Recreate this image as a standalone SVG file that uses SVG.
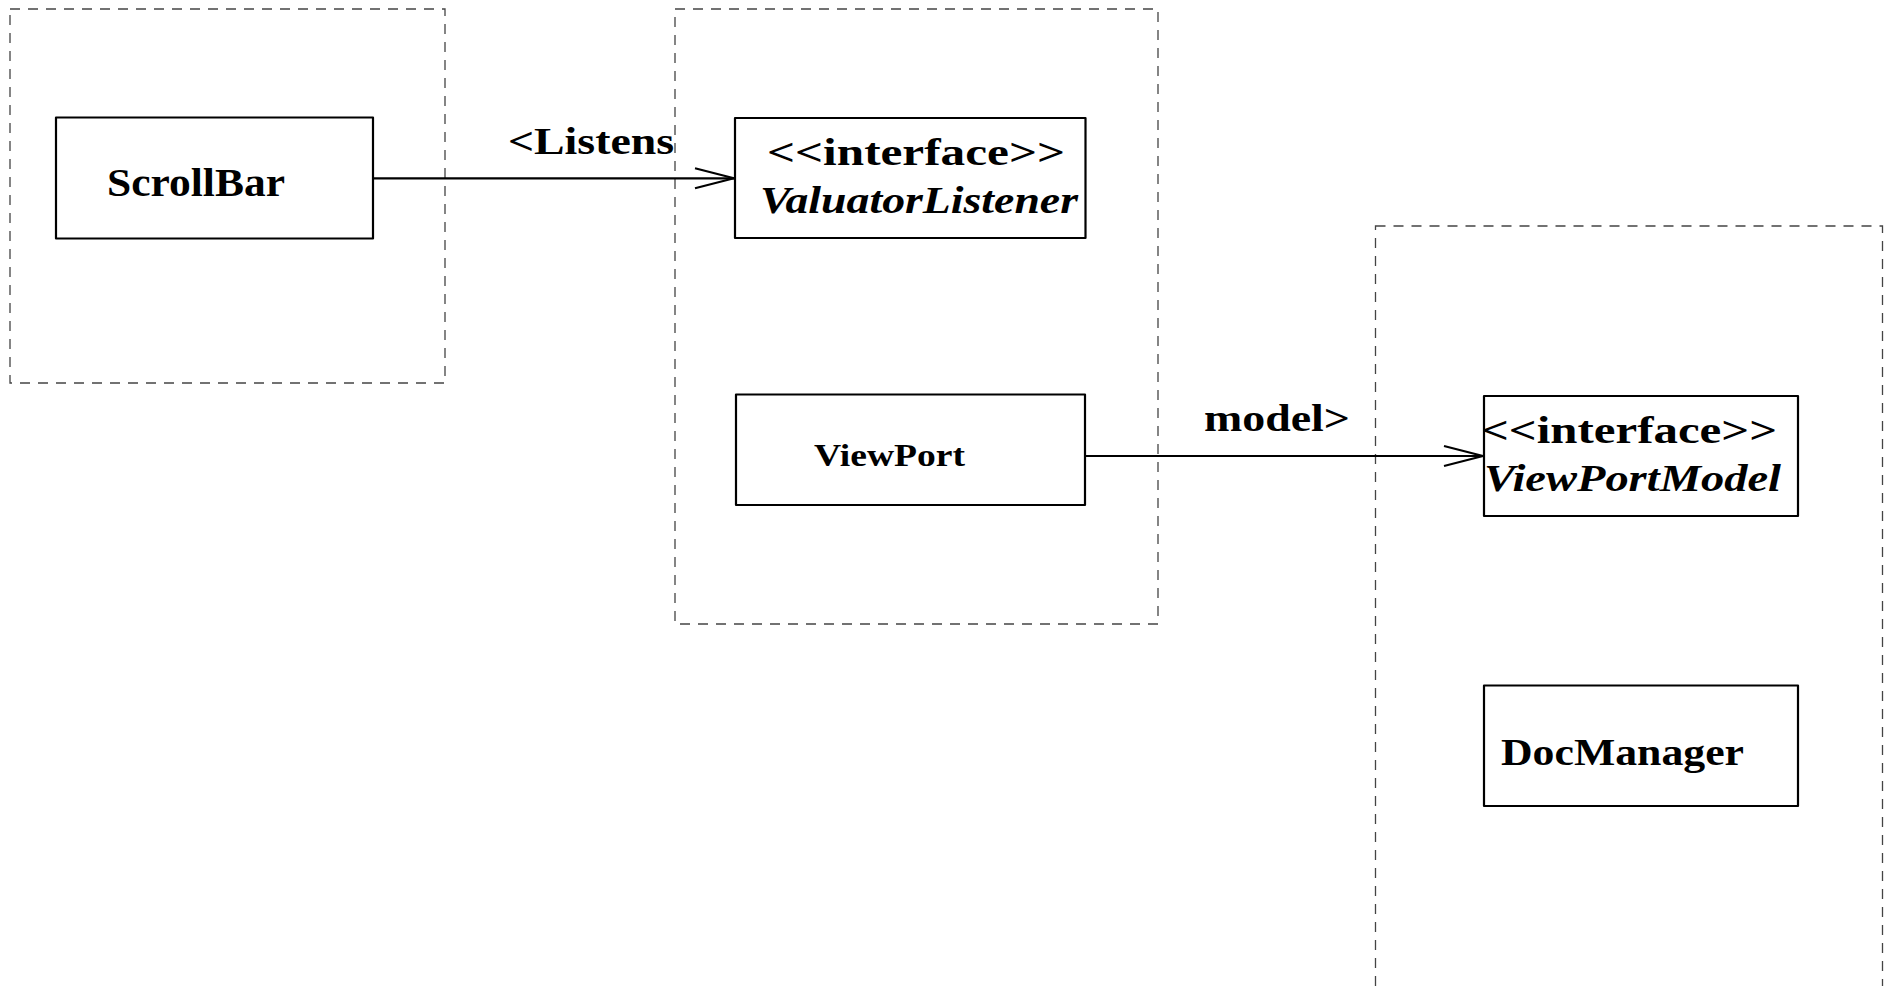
<svg xmlns="http://www.w3.org/2000/svg" width="1888" height="986" viewBox="0 0 1888 986">
<style>
.pkg{fill:none;stroke:#444;stroke-width:1.3;stroke-dasharray:10 8}
.box{fill:#fff;stroke:#000;stroke-width:2.2;stroke-linejoin:round}
.t{font-family:"Liberation Serif","DejaVu Serif",serif;font-weight:bold;fill:#000}
.i{font-style:italic}
.edge{fill:none;stroke:#000;stroke-width:2.2}
.head{fill:none;stroke:#000;stroke-width:2.2;stroke-linejoin:miter}
</style>
<rect width="1888" height="986" fill="#fff"/>
<g id="packages">
<rect class="pkg" x="10" y="9" width="435" height="374"/>
<rect class="pkg" x="675" y="9" width="483" height="615"/>
<rect class="pkg" x="1375.5" y="226" width="507" height="800"/>
</g>
<g id="connectors">
<path class="edge" d="M373 178.3H734"/>
<path class="head" d="M695 168.3L734 178.3L695 188.3"/>
<text class="t" x="508" y="154" font-size="38" textLength="166" lengthAdjust="spacingAndGlyphs">&lt;Listens</text>
<path class="edge" d="M1085 456H1483"/>
<path class="head" d="M1444 446L1483 456L1444 466"/>
<text class="t" x="1204" y="431" font-size="38" textLength="146" lengthAdjust="spacingAndGlyphs">model&gt;</text>
</g>
<g id="ScrollBar">
<rect class="box" x="56" y="117.5" width="317" height="121"/>
<text class="t" x="107" y="196" font-size="40" textLength="178" lengthAdjust="spacingAndGlyphs">ScrollBar</text>
</g>
<g id="ValuatorListener">
<rect class="box" x="735" y="118" width="350.5" height="120"/>
<text class="t" x="767" y="165" font-size="38" textLength="298" lengthAdjust="spacingAndGlyphs">&lt;&lt;interface&gt;&gt;</text>
<text class="t i" x="760" y="213" font-size="38" textLength="318" lengthAdjust="spacingAndGlyphs">ValuatorListener</text>
</g>
<g id="ViewPort">
<rect class="box" x="736" y="394.5" width="349" height="110.5"/>
<text class="t" x="814" y="466" font-size="31" textLength="151" lengthAdjust="spacingAndGlyphs">ViewPort</text>
</g>
<g id="ViewPortModel">
<rect class="box" x="1484" y="396" width="314" height="120"/>
<text class="t" x="1481" y="443" font-size="38" textLength="296" lengthAdjust="spacingAndGlyphs">&lt;&lt;interface&gt;&gt;</text>
<text class="t i" x="1484" y="491" font-size="38" textLength="297" lengthAdjust="spacingAndGlyphs">ViewPortModel</text>
</g>
<g id="DocManager">
<rect class="box" x="1484" y="685.5" width="314" height="120.5"/>
<text class="t" x="1501" y="765" font-size="38" textLength="243" lengthAdjust="spacingAndGlyphs">DocManager</text>
</g>
</svg>
